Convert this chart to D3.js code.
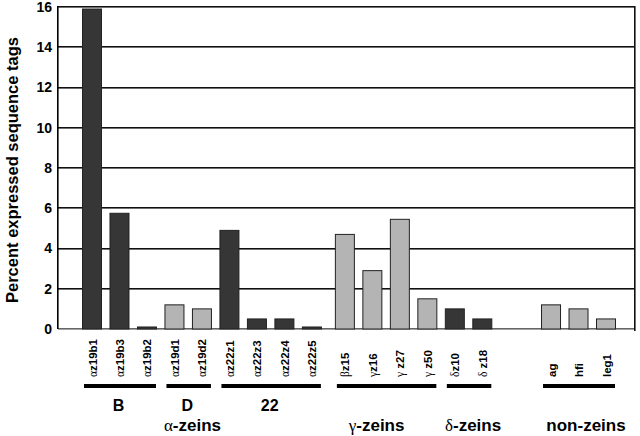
<!DOCTYPE html>
<html>
<head>
<meta charset="utf-8">
<script src="https://cdn.jsdelivr.net/npm/d3@7"></script>
<style>
  body { margin: 0; background: #fff; }
  text { font-family: Arial, "Liberation Sans", sans-serif; font-weight: bold; fill: #000; }
  .greek { font-family: "Liberation Serif", "DejaVu Serif", serif; font-weight: normal; }
</style>
</head>
<body>
<div id="chart"></div>
<script>
// bars
const genes = ["αz19b1", "αz19b3", "αz19b2", "αz19d1", "αz19d2", "αz22z1", "αz22z3", "αz22z4", "αz22z5",
  "βz15", "γz16", "γ z27", "γ z50", "δz10", "δ z18", "ag", "hfi", "leg1"];
const percent = [15.9, 5.75, 0.1, 1.2, 1.0, 4.9, 0.5, 0.5, 0.1, 4.7, 2.9, 5.45, 1.5, 1.0, 0.5, 1.2, 1.0, 0.5];
const barGroup = [0, 0, 0, 1, 1, 2, 2, 2, 2, 3, 3, 3, 3, 4, 4, 5, 5, 5];

// underlined groups and families
const groupLabels = ["B", "D", "22", "", "", ""];
const groupFamily = ["α-zeins", "α-zeins", "α-zeins", "γ-zeins", "δ-zeins", "non-zeins"];
const families = ["α-zeins", "γ-zeins", "δ-zeins", "non-zeins"];
const yTicks = [0, 2, 4, 6, 8, 10, 12, 14, 16];

const W = 640, H = 436;
const plotL = 58, plotR = 635, plotT = 7, plotB = 329;
const dark = "#363636", light = "#b4b4b4";
const groupShade = [dark, light, dark, light, dark, light];
const familyGap = { "α-zeins": 0, "γ-zeins": 0.2, "δ-zeins": 0, "non-zeins": 1.5 };
const familyNudge = { "α-zeins": -10, "γ-zeins": -10, "δ-zeins": 4, "non-zeins": 7 };

// slot position of each bar (families separated by a small gap)
let pos = [], s = 0, prevFam = null;
genes.forEach((g, i) => {
  const fam = groupFamily[barGroup[i]];
  if (prevFam !== null) s += 1 + (fam !== prevFam ? familyGap[fam] : 0);
  pos.push(s);
  prevFam = fam;
});

const x = d3.scaleLinear().domain([0, 18.7]).range([92, 606]);
const y = d3.scaleLinear().domain([0, 16]).range([plotB, plotT]);
const bw = 19;

const svg = d3.select("#chart").append("svg")
  .attr("width", W).attr("height", H);

// grid lines as thin rects
svg.append("g").selectAll("rect")
  .data(yTicks)
  .join("rect")
  .attr("x", plotL).attr("width", plotR - plotL)
  .attr("y", d => Math.round(y(d)) - 1).attr("height", 1.6)
  .attr("fill", d => d === 0 ? "#666" : "#111");

// y axis labels
const yAxis = svg.append("g")
  .attr("transform", `translate(${plotL},0)`)
  .call(d3.axisLeft(y).tickValues(yTicks).tickSize(0).tickPadding(6));
yAxis.select(".domain").remove();
yAxis.selectAll("text").style("font-size", "14px").style("font-weight", "bold")
  .style("font-family", "Arial, 'Liberation Sans', sans-serif").attr("fill", "#000");

// left axis and right border
svg.append("rect").attr("x", plotL - 1).attr("width", 1.6)
  .attr("y", y(16) - 1).attr("height", y(0) - y(16) + 1).attr("fill", "#000");
svg.append("rect").attr("x", plotR - 1).attr("width", 1.6)
  .attr("y", y(16) - 1).attr("height", y(0) - y(16) + 3).attr("fill", "#111");

// bars
svg.append("g").selectAll("rect")
  .data(genes)
  .join("rect")
  .attr("x", (d, i) => x(pos[i]) - bw / 2)
  .attr("width", bw)
  .attr("y", (d, i) => y(percent[i]))
  .attr("height", (d, i) => y(0) - y(percent[i]))
  .attr("fill", (d, i) => groupShade[barGroup[i]])
  .attr("stroke", "#222").attr("stroke-width", 1);

// text with greek letter set in serif
function greekText(sel, str) {
  const m = str.match(/^([α-ω])(.*)$/);
  if (m) {
    sel.append("tspan").attr("class", "greek").text(m[1]);
    sel.append("tspan").text(m[2]);
  } else sel.text(str);
}

// gene labels, rotated, reading upward
svg.append("g").selectAll("text")
  .data(genes)
  .join("text")
  .attr("transform", (d, i) => `translate(${x(pos[i]) + 4.5},377) rotate(-90)`)
  .style("font-size", "11.5px")
  .each(function(d) { greekText(d3.select(this), d); });

// underline bars
const spans = groupLabels.map((g, k) => {
  const idx = d3.range(genes.length).filter(i => barGroup[i] === k);
  return [x(pos[idx[0]]) - 8, x(pos[idx[idx.length - 1]]) + 9];
});
svg.append("g").selectAll("rect")
  .data(spans)
  .join("rect")
  .attr("x", d => d[0]).attr("width", d => d[1] - d[0])
  .attr("y", 384).attr("height", 4)
  .attr("fill", "#000");

svg.append("g").selectAll("text")
  .data(groupLabels)
  .join("text")
  .attr("x", (d, k) => (spans[k][0] + spans[k][1]) / 2 - 1.5)
  .attr("y", 411)
  .attr("text-anchor", "middle")
  .style("font-size", "16px")
  .text(d => d);

// family labels
svg.append("g").selectAll("text")
  .data(families)
  .join("text")
  .attr("x", f => {
    const ks = d3.range(groupFamily.length).filter(k => groupFamily[k] === f);
    return (spans[ks[0]][0] + spans[ks[ks.length - 1]][1]) / 2 + familyNudge[f];
  })
  .attr("y", 431)
  .attr("text-anchor", "middle")
  .style("font-size", "17px")
  .each(function(d) { greekText(d3.select(this), d); });

// y title
svg.append("text")
  .attr("transform", `translate(18,${(plotT + plotB) / 2 + 2}) rotate(-90)`)
  .attr("text-anchor", "middle")
  .style("font-size", "16.5px")
  .text("Percent expressed sequence tags");
</script>
</body>
</html>
